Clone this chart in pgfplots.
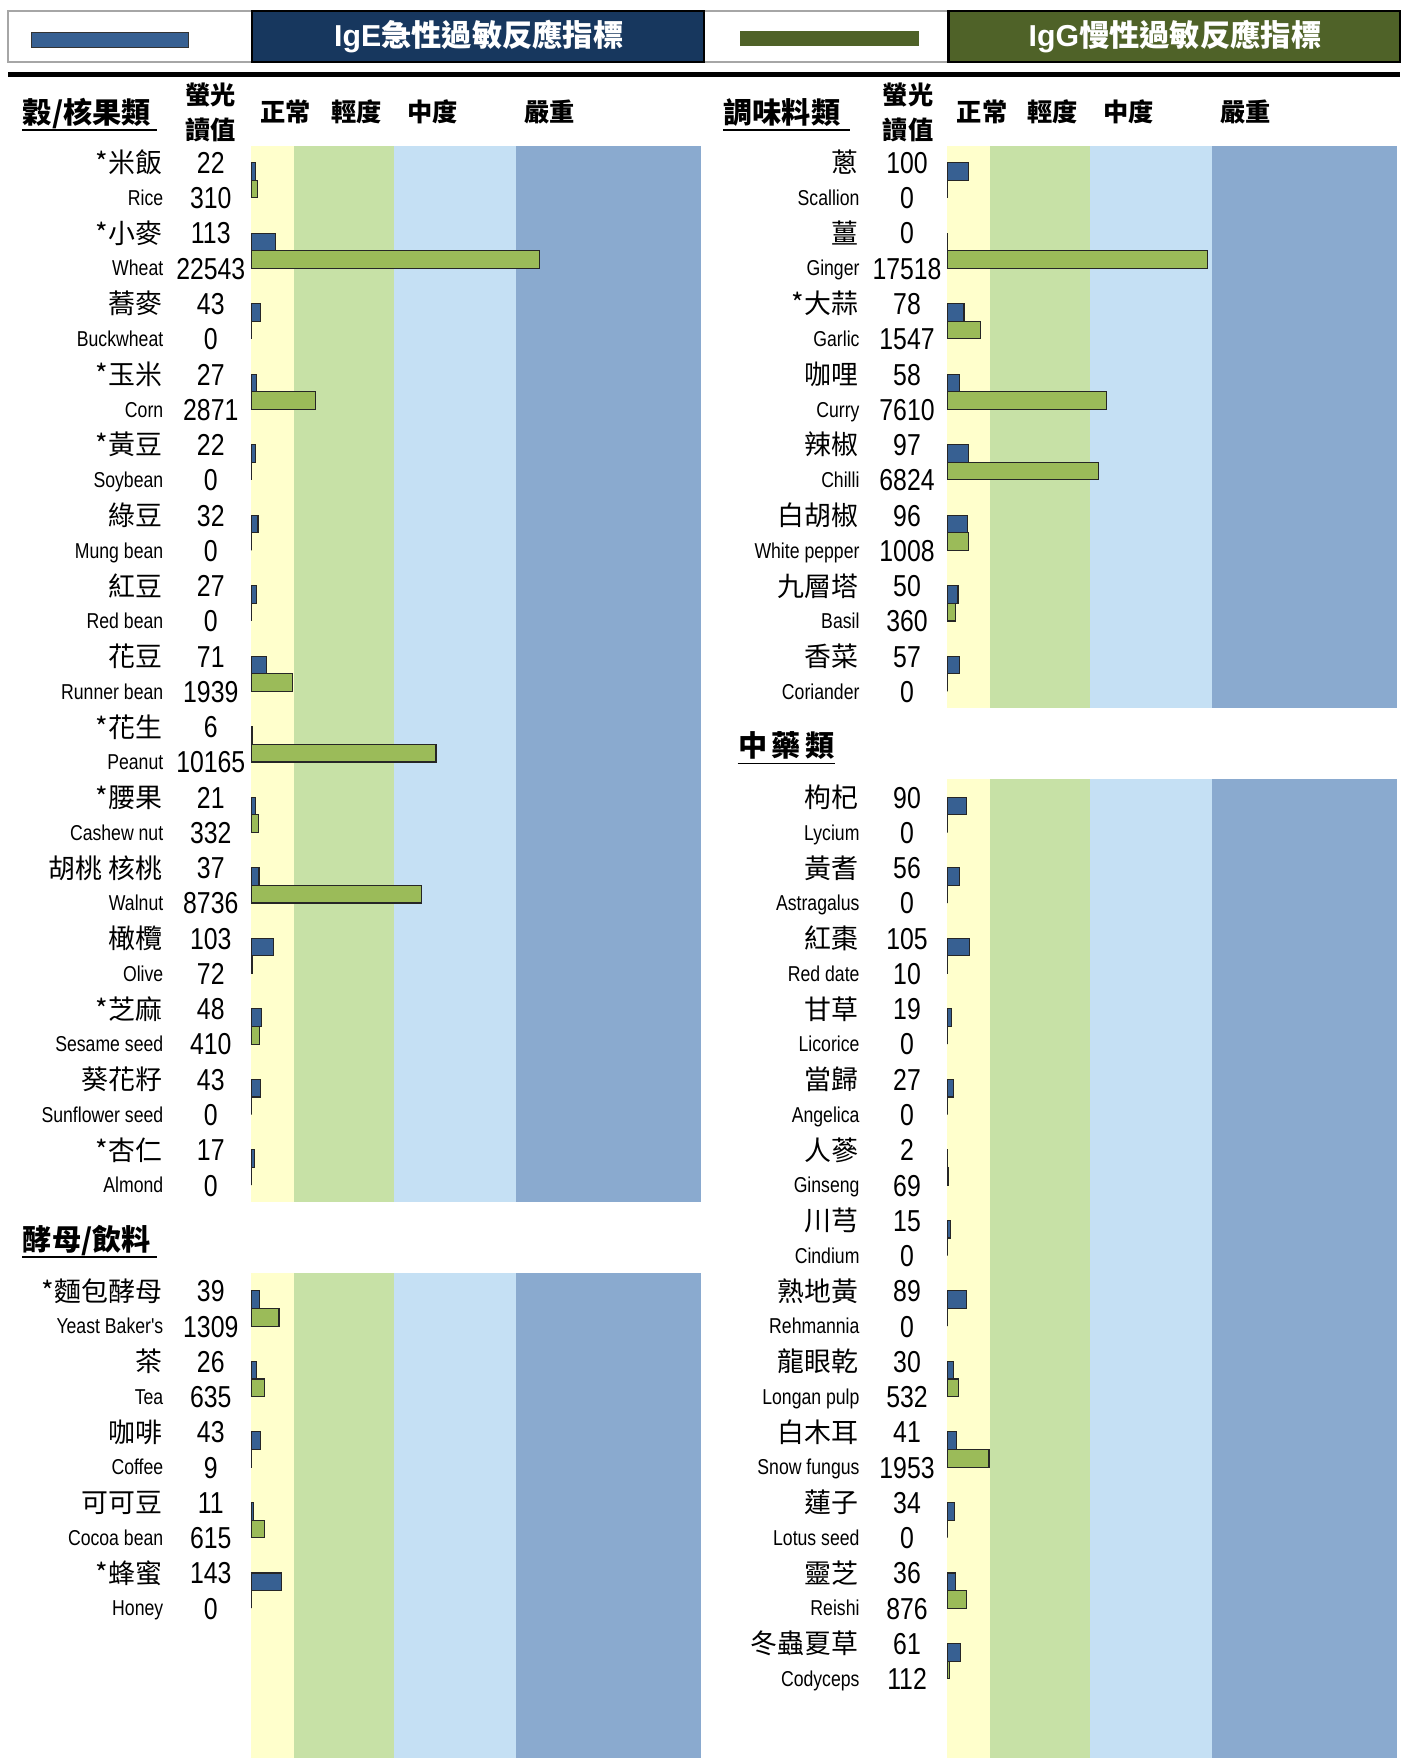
\documentclass[border=0pt]{standalone}
\usepackage{pgfplots}
\pgfplotsset{compat=1.18}
\usepackage{pgfplotstable}
\usepackage{fontspec}
\newfontfamily\cjk{Noto Sans CJK TC}
\newfontfamily\narrow{Liberation Sans}[FakeStretch=0.82]
\newfontfamily\lat{Liberation Sans}
\definecolor{navy}{HTML}{17375E}
\definecolor{olive}{HTML}{4F6228}
\definecolor{igeblue}{HTML}{376092}
\definecolor{igggreen}{HTML}{9BBB59}
\definecolor{bnorm}{HTML}{FFFFCC}
\definecolor{bmild}{HTML}{C7E1A6}
\definecolor{bmod}{HTML}{C5E0F4}
\definecolor{bsev}{HTML}{8AAACF}

\pgfplotstableread[col sep=comma]{
row,ige,igg
0,22,310
2,113,22543
4,43,0
6,27,2871
8,22,0
10,32,0
12,27,0
14,71,1939
16,6,10165
18,21,332
20,37,8736
22,103,72
24,48,410
26,43,0
28,17,0
32,39,1309
34,26,635
36,43,9
38,11,615
40,143,0
}\leftdata

\pgfplotstableread[col sep=comma]{
row,ige,igg
0,100,0
2,0,17518
4,78,1547
6,58,7610
8,97,6824
10,96,1008
12,50,360
14,57,0
18,90,0
20,56,0
22,105,10
24,19,0
26,27,0
28,2,69
30,15,0
32,89,0
34,30,532
36,41,1953
38,34,0
40,36,876
42,61,112
}\rightdata

\pgfplotsset{
  panel/.style={scale only axis, width=200.5pt, height=719pt,
    xmin=0, xmax=401, ymin=-0.48, ymax=45.246, y dir=reverse,
    hide axis, clip=false, anchor=origin},
  igebar/.style={xbar, bar width=0.5, bar shift=0pt, fill=igeblue, draw=black!85, line width=0.5pt},
  iggbar/.style={xbar, bar width=0.5, bar shift=0pt, fill=igggreen, draw=black!85, line width=0.5pt},
}
\newcommand\bands[2]{%
  \fill[bnorm] (axis cs:0,#1) rectangle (axis cs:38,#2);
  \fill[bmild] (axis cs:38,#1) rectangle (axis cs:127,#2);
  \fill[bmod] (axis cs:127,#1) rectangle (axis cs:236,#2);
  \fill[bsev] (axis cs:236,#1) rectangle (axis cs:401,#2);
}
\newcommand\gexpr{0.019*min(\thisrow{igg},2000)+0.02225*max(0,min(\thisrow{igg},6000)-2000)+0.0090833*max(0,min(\thisrow{igg},18000)-6000)+0.0045833*max(0,\thisrow{igg}-18000)}

\tikzset{
  zh/.style={font=\cjk\fontsize{12}{12}\selectfont, anchor=base east, inner sep=0pt},
  en/.style={font=\narrow\fontsize{9.6}{10}\selectfont, anchor=base east, inner sep=0pt},
  num/.style={font=\narrow\fontsize{13.5}{14}\selectfont, anchor=base, inner sep=0pt},
  hd/.style={font=\cjk\bfseries\fontsize{11.25}{12}\selectfont, inner sep=0pt},
  cat/.style={font=\cjk\bfseries\fontsize{13}{13}\selectfont, anchor=base west, inner sep=0pt},
}
\newcommand\food[6]{%
  \pgfmathsetmacro\yc{145+31.45*#2}%
  \pgfmathsetmacro\ye{\yc+31.45}%
  \node[zh] at (#1,{\yc+9.2}) {#3};
  \node[num] at ({#1+43},{\yc+9.7}) {#4};
  \node[en] at ({#1+1},{\ye+6.8}) {#5};
  \node[num] at ({#1+43},{\ye+9.7}) {#6};
}
\newcommand\colheads[5]{% x of category, name, underline end, value x, band x
  \node[cat] at (#1,110) {#2};
  \draw[line width=0.7pt] (#1,116) -- (#3,116);
  \node[hd] at (#4,85) {螢光};
  \node[hd] at (#4,116) {讀值};
  \node[hd, anchor=base west] at ({#5+8},108.4) {正常};
  \node[hd, anchor=base west] at ({#5+71},108.4) {輕度};
  \node[hd, anchor=base west] at ({#5+139},108.4) {中度};
  \node[hd, anchor=base west] at ({#5+243},108.4) {嚴重};
}

\begin{document}
\begin{tikzpicture}[x=0.5pt,y=-0.5pt]
\path[use as bounding box] (0,0) rectangle (1249,1568);
% top legend bar
\draw[gray!70, line width=1pt] (7,10) rectangle (225,55);
\draw[gray!70, line width=1pt] (628,10) rectangle (846,55);
\fill[navy] (225,10) rectangle (628,55);
\draw[black, line width=1pt] (225,10) rectangle (628,55);
\fill[olive] (846,10) rectangle (1249,55);
\draw[black, line width=1pt] (846,10) rectangle (1249,55);
\filldraw[fill=igeblue, draw=black!80, line width=0.4pt] (28,29) rectangle (168,42);
\fill[olive] (660,28) rectangle (820,41);
\node[white, font=\cjk\bfseries\fontsize{13.5}{14}\selectfont] at (427,33) {{\lat\bfseries IgE}急性過敏反應指標};
\node[white, font=\cjk\bfseries\fontsize{13.5}{14}\selectfont] at (1048,33) {{\lat\bfseries IgG}慢性過敏反應指標};
\fill[black] (7,64) rectangle (1249,69);

\colheads{20}{穀/核果類}{140}{188}{224}
\colheads{645}{調味料類}{758}{810}{845}

% left panel
\begin{axis}[panel, at={(112pt,-72.5pt)}]
  \bands{-0.48}{29.48}
  \bands{31.48}{45.246}
  \addplot[igebar] table[x expr=\thisrow{ige}*0.19, y expr=\thisrow{row}+0.25]{\leftdata};
  \addplot[iggbar] table[x expr=\gexpr, y expr=\thisrow{row}+0.75]{\leftdata};
\end{axis}
% right panel
\begin{axis}[panel, at={(422.5pt,-72.5pt)}]
  \bands{-0.48}{15.48}
  \bands{17.49}{45.246}
  \addplot[igebar] table[x expr=\thisrow{ige}*0.19, y expr=\thisrow{row}+0.25]{\rightdata};
  \addplot[iggbar] table[x expr=\gexpr, y expr=\thisrow{row}+0.75]{\rightdata};
\end{axis}

% section titles
\node[cat] at (20,1115) {酵母/飲料};
\draw[line width=0.7pt] (20,1121) -- (140,1121);
\node[cat] at (658,675) {中\kern2pt 藥\kern2pt 類};
\draw[line width=0.7pt] (658,681) -- (745,681);

% left labels
\food{145}{0}{*米飯}{22}{Rice}{310}
\food{145}{2}{*小麥}{113}{Wheat}{22543}
\food{145}{4}{蕎麥}{43}{Buckwheat}{0}
\food{145}{6}{*玉米}{27}{Corn}{2871}
\food{145}{8}{*黃豆}{22}{Soybean}{0}
\food{145}{10}{綠豆}{32}{Mung bean}{0}
\food{145}{12}{紅豆}{27}{Red bean}{0}
\food{145}{14}{花豆}{71}{Runner bean}{1939}
\food{145}{16}{*花生}{6}{Peanut}{10165}
\food{145}{18}{*腰果}{21}{Cashew nut}{332}
\food{145}{20}{胡桃 核桃}{37}{Walnut}{8736}
\food{145}{22}{橄欖}{103}{Olive}{72}
\food{145}{24}{*芝麻}{48}{Sesame seed}{410}
\food{145}{26}{葵花籽}{43}{Sunflower seed}{0}
\food{145}{28}{*杏仁}{17}{Almond}{0}
\food{145}{32}{*麵包酵母}{39}{Yeast Baker's}{1309}
\food{145}{34}{茶}{26}{Tea}{635}
\food{145}{36}{咖啡}{43}{Coffee}{9}
\food{145}{38}{可可豆}{11}{Cocoa bean}{615}
\food{145}{40}{*蜂蜜}{143}{Honey}{0}
% right labels
\food{766}{0}{蔥}{100}{Scallion}{0}
\food{766}{2}{薑}{0}{Ginger}{17518}
\food{766}{4}{*大蒜}{78}{Garlic}{1547}
\food{766}{6}{咖哩}{58}{Curry}{7610}
\food{766}{8}{辣椒}{97}{Chilli}{6824}
\food{766}{10}{白胡椒}{96}{White pepper}{1008}
\food{766}{12}{九層塔}{50}{Basil}{360}
\food{766}{14}{香菜}{57}{Coriander}{0}
\food{766}{18}{枸杞}{90}{Lycium}{0}
\food{766}{20}{黃耆}{56}{Astragalus}{0}
\food{766}{22}{紅棗}{105}{Red date}{10}
\food{766}{24}{甘草}{19}{Licorice}{0}
\food{766}{26}{當歸}{27}{Angelica}{0}
\food{766}{28}{人蔘}{2}{Ginseng}{69}
\food{766}{30}{川芎}{15}{Cindium}{0}
\food{766}{32}{熟地黃}{89}{Rehmannia}{0}
\food{766}{34}{龍眼乾}{30}{Longan pulp}{532}
\food{766}{36}{白木耳}{41}{Snow fungus}{1953}
\food{766}{38}{蓮子}{34}{Lotus seed}{0}
\food{766}{40}{靈芝}{36}{Reishi}{876}
\food{766}{42}{冬蟲夏草}{61}{Codyceps}{112}
\end{tikzpicture}
\end{document}
